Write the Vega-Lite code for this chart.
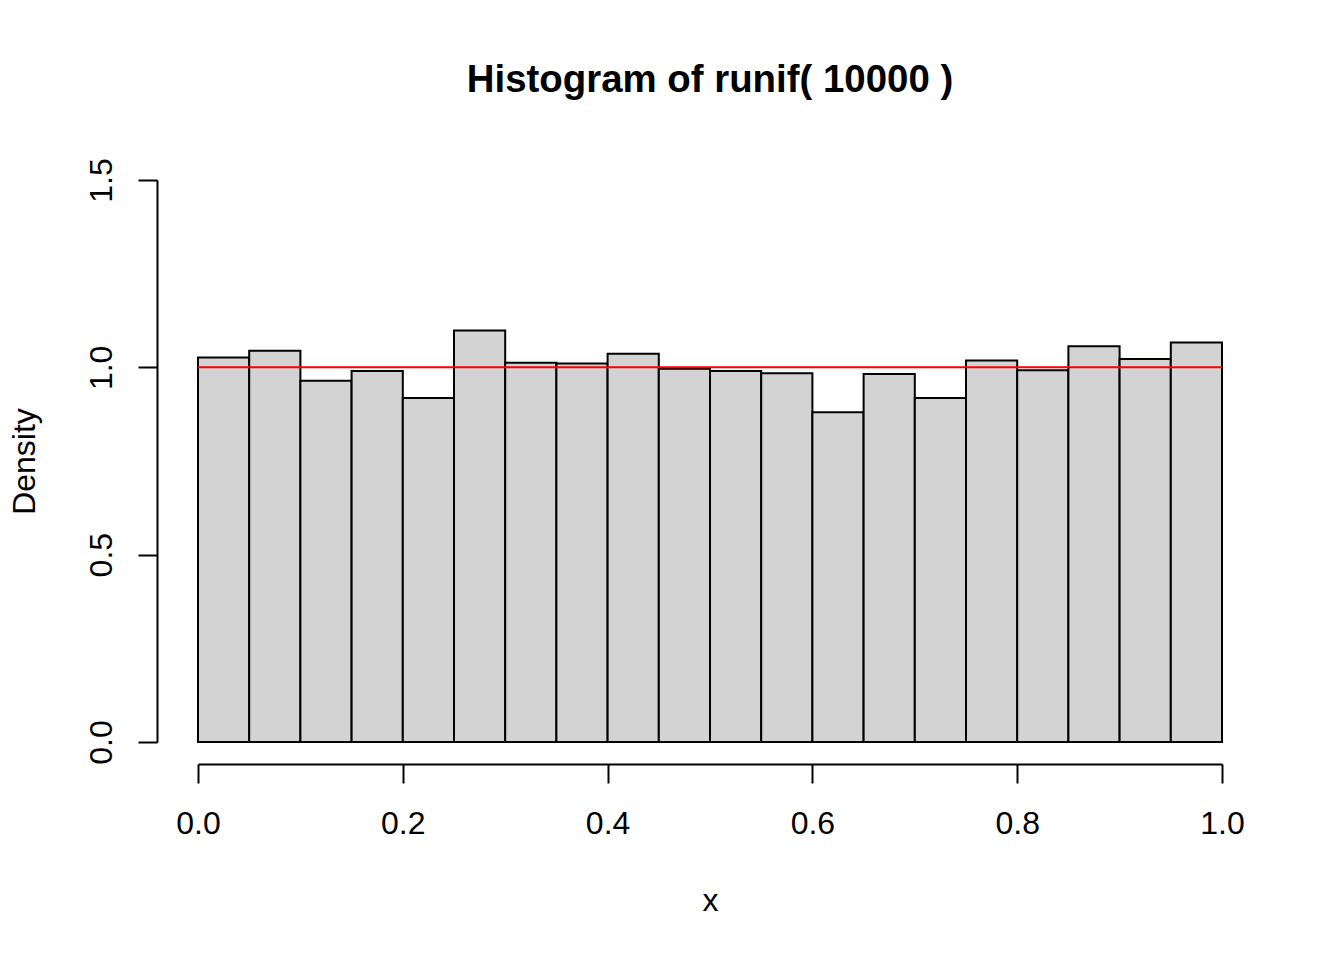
{
  "$schema": "https://vega.github.io/schema/vega-lite/v6.json",
  "width": 1024,
  "height": 562,
  "autosize": "none",
  "padding": {"left": 198, "top": 180, "right": 122, "bottom": 218},
  "background": "white",
  "title": {
    "text": "Histogram of runif( 10000 )",
    "font": "Liberation Sans",
    "fontSize": 38.4,
    "fontWeight": "bold",
    "color": "black",
    "anchor": "middle",
    "frame": "group",
    "baseline": "alphabetic",
    "offset": 27
  },
  "config": {
    "view": {"stroke": null},
    "axis": {
      "grid": false,
      "domainColor": "black",
      "domainWidth": 2,
      "tickColor": "black",
      "tickWidth": 2,
      "tickSize": 19,
      "labelFont": "Liberation Sans",
      "labelFontSize": 32,
      "labelColor": "black",
      "labelOverlap": false,
      "labelFlush": false,
      "titleFont": "Liberation Sans",
      "titleFontSize": 32,
      "titleFontWeight": "normal",
      "titleColor": "black"
    }
  },
  "datasets": {
    "bins": [
      {"bin_start": 0.00, "bin_end": 0.05, "density": 1.026},
      {"bin_start": 0.05, "bin_end": 0.10, "density": 1.044},
      {"bin_start": 0.10, "bin_end": 0.15, "density": 0.964},
      {"bin_start": 0.15, "bin_end": 0.20, "density": 0.990},
      {"bin_start": 0.20, "bin_end": 0.25, "density": 0.918},
      {"bin_start": 0.25, "bin_end": 0.30, "density": 1.098},
      {"bin_start": 0.30, "bin_end": 0.35, "density": 1.012},
      {"bin_start": 0.35, "bin_end": 0.40, "density": 1.010},
      {"bin_start": 0.40, "bin_end": 0.45, "density": 1.036},
      {"bin_start": 0.45, "bin_end": 0.50, "density": 0.996},
      {"bin_start": 0.50, "bin_end": 0.55, "density": 0.990},
      {"bin_start": 0.55, "bin_end": 0.60, "density": 0.984},
      {"bin_start": 0.60, "bin_end": 0.65, "density": 0.880},
      {"bin_start": 0.65, "bin_end": 0.70, "density": 0.982},
      {"bin_start": 0.70, "bin_end": 0.75, "density": 0.918},
      {"bin_start": 0.75, "bin_end": 0.80, "density": 1.018},
      {"bin_start": 0.80, "bin_end": 0.85, "density": 0.992},
      {"bin_start": 0.85, "bin_end": 0.90, "density": 1.056},
      {"bin_start": 0.90, "bin_end": 0.95, "density": 1.022},
      {"bin_start": 0.95, "bin_end": 1.00, "density": 1.066}
    ],
    "curve": [
      {"x_from": 0, "x_to": 1, "density": 1}
    ]
  },
  "layer": [
    {
      "data": {"name": "bins"},
      "mark": {"type": "rect", "fill": "#D3D3D3", "stroke": "black", "strokeWidth": 2},
      "encoding": {
        "x": {
          "field": "bin_start",
          "type": "quantitative",
          "scale": {"domain": [0, 1], "nice": false, "zero": false},
          "axis": {
            "title": "x",
            "offset": 22,
            "values": [0, 0.2, 0.4, 0.6, 0.8, 1.0],
            "format": ".1f",
            "labelBaseline": "alphabetic",
            "labelPadding": 50,
            "titleBaseline": "alphabetic",
            "titleY": 146,
            "titleX": 512,
            "titleAlign": "center"
          }
        },
        "x2": {"field": "bin_end"},
        "y": {
          "field": "density",
          "type": "quantitative",
          "scale": {"domain": [0, 1.5], "nice": false},
          "axis": {
            "title": "Density",
            "offset": 41,
            "values": [0, 0.5, 1.0, 1.5],
            "format": ".1f",
            "labelAngle": 270,
            "labelAlign": "center",
            "labelBaseline": "alphabetic",
            "labelPadding": 27,
            "titleAngle": 270,
            "titleAlign": "center",
            "titleBaseline": "alphabetic",
            "titleX": -123,
            "titleY": 281
          }
        },
        "y2": {"datum": 0}
      }
    },
    {
      "data": {"name": "curve"},
      "mark": {"type": "rule", "color": "#FF0000", "strokeWidth": 2},
      "encoding": {
        "x": {"field": "x_from", "type": "quantitative"},
        "x2": {"field": "x_to"},
        "y": {"field": "density", "type": "quantitative"}
      }
    }
  ]
}
